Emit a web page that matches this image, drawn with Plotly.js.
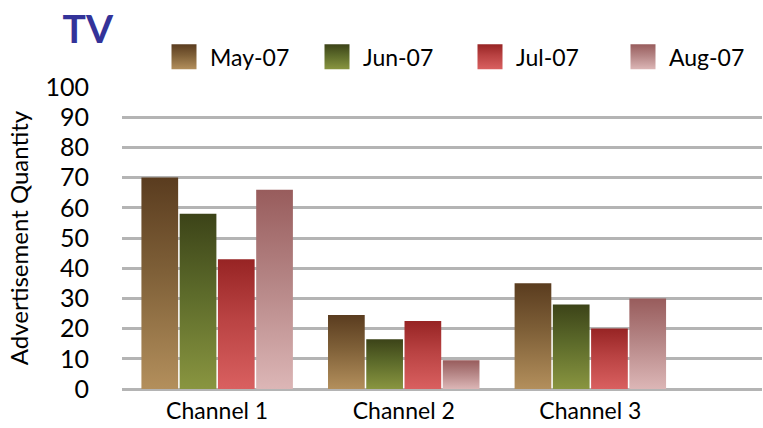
<!DOCTYPE html>
<html>
<head>
<meta charset="utf-8">
<script src="https://cdn.plot.ly/plotly-3.0.1.min.js"></script>
<style>html,body{margin:0;padding:0;background:#fff;}#chart{width:763px;height:428px;}</style>
</head>
<body>
<div id="chart"></div>
<script>
const categories = ["Channel 1", "Channel 2", "Channel 3"];
const seriesNames = ["May-07", "Jun-07", "Jul-07", "Aug-07"];
const may07 = [70, 24.5, 35];
const jun07 = [58, 16.5, 28];
const jul07 = [43, 22.5, 20];
const aug07 = [66, 9.5, 30];
const seriesValues = [may07, jun07, jul07, aug07];
const yTicks = [0, 10, 20, 30, 40, 50, 60, 70, 80, 90, 100];

// gradient styles: [top, middle, bottom]
const gradients = [
  ["#5a3c1f", "#7f6038", "#b38f5c"],
  ["#3c4318", "#5c6a2a", "#899540"],
  ["#972424", "#b94242", "#d96060"],
  ["#985c5c", "#b48484", "#dcb6b6"]
];
const baseColors = ["#8a6a40", "#646f2d", "#c04848", "#bb8c8c"];

const FONT = "Lato, 'Open Sans', sans-serif";

const traces = seriesNames.map((name, i) => ({
  type: "bar",
  name: name,
  x: categories,
  y: seriesValues[i],
  marker: { color: baseColors[i], line: { width: 0 } },
  hoverinfo: "x+y+name"
}));

const layout = {
  width: 763,
  height: 428,
  margin: { l: 122, r: 1, t: 87, b: 39 },
  paper_bgcolor: "#ffffff",
  plot_bgcolor: "#ffffff",
  font: { family: FONT, color: "#000000", size: 22 },
  title: {
    text: "<b>TV</b>",
    font: { family: FONT, size: 39, color: "#333399" },
    x: 0.082, xanchor: "left", xref: "container",
    y: 0.932, yanchor: "middle", yref: "container"
  },
  barmode: "group",
  bargap: 0.18,
  bargroupgap: 0.04,
  xaxis: {
    type: "category",
    range: [-0.51, 2.92],
    showgrid: false,
    showline: false,
    ticks: "",
    ticklabelstandoff: 6,
    tickfont: { family: FONT, size: 23, color: "#000" },
    fixedrange: true
  },
  yaxis: {
    range: [0, 100],
    tickvals: yTicks,
    ticktext: yTicks.map(String),
    showgrid: true,
    gridcolor: "#b4b4b4",
    gridwidth: 2.5,
    zeroline: true,
    zerolinecolor: "#b4b4b4",
    zerolinewidth: 3,
    showline: false,
    ticks: "",
    ticklabelstandoff: 32,
    tickfont: { family: FONT, size: 25, color: "#000" },
    title: { text: "Advertisement Quantity", font: { family: FONT, size: 24, color: "#000" }, standoff: 10 },
    fixedrange: true
  },
  showlegend: true,
  legend: {
    orientation: "h",
    x: 1, xanchor: "right",
    y: 1.1, yanchor: "middle",
    itemwidth: 50,
    entrywidth: 88,
    entrywidthmode: "pixels",
    font: { family: FONT, size: 23, color: "#000" },
    itemclick: false, itemdoubleclick: false,
    traceorder: "normal"
  }
};

function applyGradients(gd) {
  const svgs = gd.querySelectorAll("svg.main-svg");
  const svg = svgs[0];
  let defs = svg.querySelector("defs");
  if (!defs) { defs = document.createElementNS("http://www.w3.org/2000/svg", "defs"); svg.insertBefore(defs, svg.firstChild); }
  gradients.forEach((g, i) => {
    const id = "barGrad" + i;
    if (document.getElementById(id)) return;
    const lg = document.createElementNS("http://www.w3.org/2000/svg", "linearGradient");
    lg.setAttribute("id", id);
    lg.setAttribute("x1", "0"); lg.setAttribute("y1", "0");
    lg.setAttribute("x2", "0"); lg.setAttribute("y2", "1");
    [[0, g[0]], [0.45, g[1]], [1, g[2]]].forEach(([off, c]) => {
      const s = document.createElementNS("http://www.w3.org/2000/svg", "stop");
      s.setAttribute("offset", off);
      s.setAttribute("stop-color", c);
      lg.appendChild(s);
    });
    defs.appendChild(lg);
  });
  const barTraces = gd.querySelectorAll(".barlayer .trace");
  barTraces.forEach((t, i) => {
    t.querySelectorAll(".point path").forEach(p => { p.style.fill = "url(#barGrad" + i + ")"; });
  });
  const legendItems = gd.querySelectorAll(".legend .traces");
  legendItems.forEach((t, i) => {
    t.querySelectorAll(".legendpoints path").forEach(p => {
      p.setAttribute("d", "M16.5,12.5H-8.5V-12.5H16.5Z");
      p.style.fill = "url(#barGrad" + i + ")";
      p.style.stroke = "none";
    });
  });
}

Plotly.newPlot("chart", traces, layout, { displayModeBar: false, staticPlot: false }).then(gd => {
  applyGradients(gd);
  gd.on("plotly_afterplot", () => applyGradients(gd));
});
</script>
</body>
</html>
